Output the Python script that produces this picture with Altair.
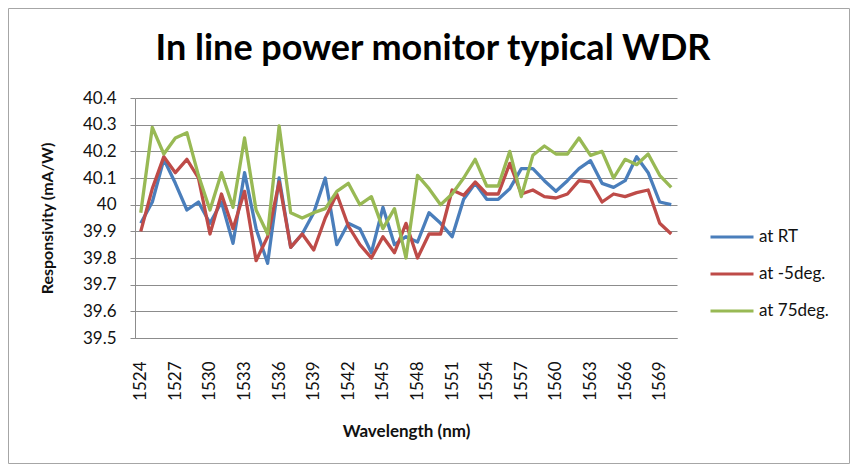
import altair as alt
import pandas as pd

wavelength = list(range(1524, 1571))

at_rt = [39.93, 40.01, 40.17, 40.08, 39.98, 40.01, 39.93, 40.01, 39.855, 40.12,
         39.91, 39.78, 40.10, 39.84, 39.89, 39.97, 40.10, 39.85, 39.93, 39.91,
         39.82, 39.99, 39.85, 39.88, 39.86, 39.97, 39.93, 39.88, 40.02, 40.08,
         40.02, 40.02, 40.06, 40.135, 40.135, 40.09, 40.05, 40.09, 40.135, 40.165,
         40.08, 40.065, 40.09, 40.18, 40.12, 40.01, 40.00]

at_minus5 = [39.90, 40.06, 40.18, 40.12, 40.17, 40.10, 39.89, 40.04, 39.91, 40.05,
             39.79, 39.88, 40.085, 39.84, 39.89, 39.83, 39.95, 40.04, 39.92, 39.85,
             39.80, 39.88, 39.82, 39.93, 39.80, 39.89, 39.89, 40.055, 40.035, 40.085,
             40.04, 40.04, 40.155, 40.04, 40.055, 40.03, 40.025, 40.04, 40.09, 40.085,
             40.01, 40.04, 40.03, 40.045, 40.055, 39.93, 39.89]

at_75 = [39.97, 40.29, 40.19, 40.25, 40.27, 40.11, 39.98, 40.12, 39.99, 40.25,
         39.98, 39.89, 40.295, 39.97, 39.95, 39.97, 39.985, 40.05, 40.08, 40.00,
         40.03, 39.91, 39.985, 39.80, 40.11, 40.06, 40.00, 40.04, 40.10, 40.17,
         40.07, 40.07, 40.20, 40.03, 40.185, 40.22, 40.19, 40.19, 40.25, 40.185,
         40.20, 40.10, 40.17, 40.15, 40.19, 40.11, 40.065]

series_names = ["at RT", "at -5deg.", "at 75deg."]
series_colors = ["#4A7EBB", "#BE4B48", "#98B954"]
y_ticks = [39.5, 39.6, 39.7, 39.8, 39.9, 40.0, 40.1, 40.2, 40.3, 40.4]
x_ticks = list(range(1524, 1570, 3))
chart_title = "In line power monitor typical WDR"

rows = []
for name, vals in zip(series_names, [at_rt, at_minus5, at_75]):
    for w, v in zip(wavelength, vals):
        rows.append({"Wavelength": w, "Responsivity": v, "Series": name})
df = pd.DataFrame(rows)

FONT = "Lato"
GRID = "#8c8c8c"
W, H = 542, 240
PAD = {"left": 127, "top": 90, "right": 174, "bottom": 127}

border = alt.Chart(alt.Data(values=[{"a": 1}])).mark_rect(
    fill="white", fillOpacity=0, stroke="#a6a6a6", strokeWidth=1
).encode(
    x=alt.value(-126.5), x2=alt.value(W + PAD["right"] - 1.5),
    y=alt.value(-89.5), y2=alt.value(H + PAD["bottom"] - 1.5),
)

title = alt.Chart(alt.Data(values=[{"t": chart_title}])).mark_text(
    font=FONT, fontSize=36, fontWeight="bold", color="black",
    align="center", baseline="alphabetic"
).encode(
    x=alt.value(298), y=alt.value(-38), text="t:N"
)

lines = alt.Chart(df).mark_line(strokeWidth=3.3, strokeJoin="round").encode(
    x=alt.X("Wavelength:Q",
            scale=alt.Scale(domain=[1523.5, 1570.5], nice=False, zero=False),
            axis=alt.Axis(values=x_ticks, format="d", labelAngle=270, grid=False, ticks=False,
                          labelFont=FONT, labelFontSize=17, labelColor="#111",
                          labelPadding=23, domainColor=GRID, labelOverlap=False,
                          title="Wavelength (nm)", titleFont=FONT, titleFontSize=17,
                          titleFontWeight="bold", titleColor="#111", titlePadding=23)),
    y=alt.Y("Responsivity:Q",
            scale=alt.Scale(domain=[39.5, 40.4], nice=False, zero=False),
            axis=alt.Axis(values=y_ticks, format=".1~f", grid=True, gridColor=GRID,
                          gridWidth=1, tickColor=GRID, tickSize=5, domainColor=GRID,
                          labelFont=FONT, labelFontSize=17, labelColor="#111",
                          labelPadding=14, labelOverlap=False,
                          title="Responsivity (mA/W)", titleFont=FONT, titleFontSize=16,
                          titleFontWeight="bold", titleColor="#111", titlePadding=27)),
    color=alt.Color("Series:N", sort=series_names,
                    scale=alt.Scale(domain=series_names, range=series_colors),
                    legend=alt.Legend(title=None, orient="none", legendX=574, legendY=116,
                                      symbolType="stroke", symbolStrokeWidth=3,
                                      symbolSize=1849, labelFont=FONT, labelFontSize=17,
                                      labelColor="#111", rowPadding=6, labelOffset=4)),
)

chart = alt.layer(border, title, lines).properties(
    width=W, height=H,
    autosize=alt.AutoSizeParams(type="none"),
    padding=PAD,
).configure_view(stroke=None)

chart.save("out.html", embed_options={"renderer": "svg", "actions": False})
